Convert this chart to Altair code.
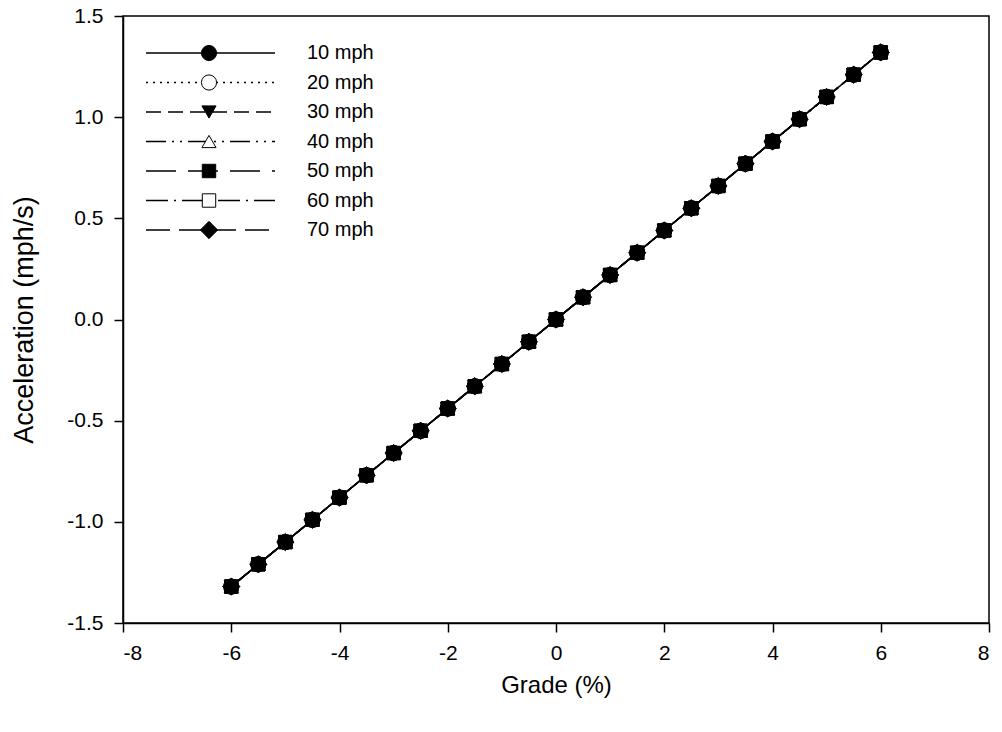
import altair as alt
import pandas as pd

# ---- data ----
grade = [-6.0, -5.5, -5.0, -4.5, -4.0, -3.5, -3.0, -2.5, -2.0, -1.5, -1.0, -0.5,
         0.0, 0.5, 1.0, 1.5, 2.0, 2.5, 3.0, 3.5, 4.0, 4.5, 5.0, 5.5, 6.0]
accel_10 = [-1.32, -1.21, -1.10, -0.99, -0.88, -0.77, -0.66, -0.55, -0.44, -0.33, -0.22, -0.11,
            0.00, 0.11, 0.22, 0.33, 0.44, 0.55, 0.66, 0.77, 0.88, 0.99, 1.10, 1.21, 1.32]
accel_20 = [-1.32, -1.21, -1.10, -0.99, -0.88, -0.77, -0.66, -0.55, -0.44, -0.33, -0.22, -0.11,
            0.00, 0.11, 0.22, 0.33, 0.44, 0.55, 0.66, 0.77, 0.88, 0.99, 1.10, 1.21, 1.32]
accel_30 = [-1.32, -1.21, -1.10, -0.99, -0.88, -0.77, -0.66, -0.55, -0.44, -0.33, -0.22, -0.11,
            0.00, 0.11, 0.22, 0.33, 0.44, 0.55, 0.66, 0.77, 0.88, 0.99, 1.10, 1.21, 1.32]
accel_40 = [-1.32, -1.21, -1.10, -0.99, -0.88, -0.77, -0.66, -0.55, -0.44, -0.33, -0.22, -0.11,
            0.00, 0.11, 0.22, 0.33, 0.44, 0.55, 0.66, 0.77, 0.88, 0.99, 1.10, 1.21, 1.32]
accel_50 = [-1.32, -1.21, -1.10, -0.99, -0.88, -0.77, -0.66, -0.55, -0.44, -0.33, -0.22, -0.11,
            0.00, 0.11, 0.22, 0.33, 0.44, 0.55, 0.66, 0.77, 0.88, 0.99, 1.10, 1.21, 1.32]
accel_60 = [-1.32, -1.21, -1.10, -0.99, -0.88, -0.77, -0.66, -0.55, -0.44, -0.33, -0.22, -0.11,
            0.00, 0.11, 0.22, 0.33, 0.44, 0.55, 0.66, 0.77, 0.88, 0.99, 1.10, 1.21, 1.32]
accel_70 = [-1.32, -1.21, -1.10, -0.99, -0.88, -0.77, -0.66, -0.55, -0.44, -0.33, -0.22, -0.11,
            0.00, 0.11, 0.22, 0.33, 0.44, 0.55, 0.66, 0.77, 0.88, 0.99, 1.10, 1.21, 1.32]

speeds = ["10 mph", "20 mph", "30 mph", "40 mph", "50 mph", "60 mph", "70 mph"]
series = [accel_10, accel_20, accel_30, accel_40, accel_50, accel_60, accel_70]
x_ticks = [-8, -6, -4, -2, 0, 2, 4, 6, 8]
y_ticks = [-1.5, -1.0, -0.5, 0.0, 0.5, 1.0, 1.5]

# styles
dashes = [[1, 0], [2, 5], [15, 7], [20, 6, 2, 6, 2, 6], [30, 12], [22, 6, 2, 6], [24, 9]]
shapes = ["circle", "circle", "triangle-down", "triangle-up", "square", "square", "diamond"]
fills = ["black", "white", "black", "white", "black", "white", "black"]
sizes = [230, 230, 200, 200, 180, 180, 300]

rows = []
for sp, vals in zip(speeds, series):
    for g, a in zip(grade, vals):
        rows.append({"speed": sp, "grade": g, "accel": a})
df = pd.DataFrame(rows)
# open (white) markers drawn first, filled markers on top
fill_of = dict(zip(speeds, fills))
df_pts = pd.concat([df[df["speed"].map(fill_of) == "white"],
                    df[df["speed"].map(fill_of) == "black"]], ignore_index=True)
leg = pd.DataFrame({"speed": speeds, "row": list(range(len(speeds)))})

FONT = "Liberation Sans"
W, H = 866, 607

dash_scale = alt.Scale(domain=speeds, range=dashes)
shape_scale = alt.Scale(domain=speeds, range=shapes)
fill_scale = alt.Scale(domain=speeds, range=fills)
size_scale = alt.Scale(domain=speeds, range=sizes, type="ordinal")

hyphen_x = "(datum.value < 0 ? '-' : '') + format(abs(datum.value), 'd')"
hyphen_y = "(datum.value < 0 ? '-' : '') + format(abs(datum.value), '.1f')"

xenc = alt.X("grade:Q", scale=alt.Scale(domain=[-8, 8], nice=False, zero=False),
             axis=alt.Axis(values=x_ticks, labelExpr=hyphen_x, title="Grade (%)"))
yenc = alt.Y("accel:Q", scale=alt.Scale(domain=[-1.5, 1.5], nice=False, zero=False),
             axis=alt.Axis(values=y_ticks, labelExpr=hyphen_y, title="Acceleration (mph/s)"))

lines = alt.Chart(df).mark_line(color="black", strokeWidth=1.5).encode(
    x=xenc, y=yenc,
    strokeDash=alt.StrokeDash("speed:N", scale=dash_scale, legend=None),
    detail="speed:N",
)
points = alt.Chart(df_pts).mark_point(filled=True, stroke="black", strokeWidth=1,
                                      opacity=1).encode(
    x=xenc, y=yenc,
    shape=alt.Shape("speed:N", scale=shape_scale, legend=None),
    fill=alt.Fill("speed:N", scale=fill_scale, legend=None),
    size=alt.Size("speed:N", scale=size_scale, legend=None),
)
main = alt.layer(lines, points)

leg_y = alt.Y("row:Q", scale=alt.Scale(domain=[0, 6], range=[37, 214]), axis=None)
leg_lines = alt.Chart(leg).mark_rule(color="black", strokeWidth=1.5).encode(
    x=alt.value(23), x2=alt.value(152), y=leg_y,
    strokeDash=alt.StrokeDash("speed:N", scale=dash_scale, legend=None),
)
leg_pts = alt.Chart(leg).mark_point(filled=True, stroke="black", strokeWidth=1,
                                    opacity=1).encode(
    x=alt.value(86), y=leg_y,
    shape=alt.Shape("speed:N", scale=shape_scale, legend=None),
    fill=alt.Fill("speed:N", scale=fill_scale, legend=None),
    size=alt.Size("speed:N", scale=size_scale, legend=None),
)
leg_text = alt.Chart(leg).mark_text(align="left", baseline="middle", font=FONT,
                                    fontSize=20, color="black").encode(
    x=alt.value(184), y=leg_y, text="speed:N",
)
legend = alt.layer(leg_lines, leg_pts, leg_text)

chart = alt.layer(main, legend).resolve_scale(
    y="independent"
).properties(
    width=W, height=H,
    autosize=alt.AutoSizeParams(type="none"),
    padding={"left": 123, "top": 16, "right": 13, "bottom": 109},
).configure_view(
    stroke="black", strokeWidth=1.5
).configure_axis(
    grid=False, labelFont=FONT, titleFont=FONT, labelFontSize=21, titleFontSize=24,
    titleFontWeight="normal", labelColor="black", titleColor="black",
    domainColor="black", tickColor="black", domainWidth=1.5, tickWidth=1.5,
    tickSize=9,
).configure_axisY(labelPadding=11, titlePadding=28, titleFontSize=27
).configure_axisX(labelPadding=10, titlePadding=10)

chart.save("out.html", embed_options={"renderer": "svg", "actions": False})
